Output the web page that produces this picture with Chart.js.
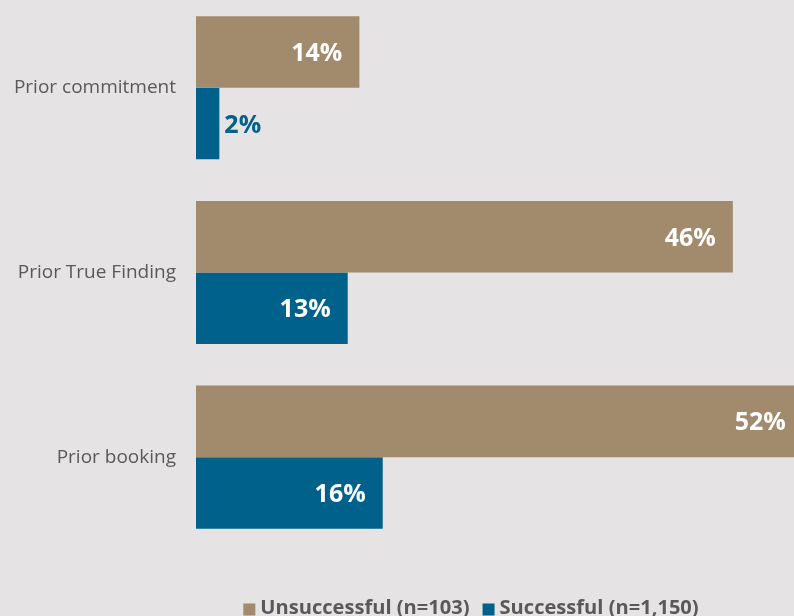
<!DOCTYPE html>
<html>
<head>
<meta charset="utf-8">
<script src="https://cdn.jsdelivr.net/npm/chart.js@4"></script>
<style>
    html, body { margin: 0; padding: 0; background: #e5e3e4; overflow: hidden; }
    #wrap { position: absolute; left: 0; top: -28px; width: 794px; height: 644px; }
</style>
</head>
<body>
<div id="wrap"><canvas id="myChart"></canvas></div>
<script>
const categories = ['Prior commitment', 'Prior True Finding', 'Prior booking'];
const seriesNames = ['Unsuccessful (n=103)', 'Successful (n=1,150)'];
const unsuccessful = [14, 46, 52];
const successful = [2, 13, 16];

const tan = '#a28a6d';
const blue = '#00618a';

// value labels at the end of each bar
const barLabels = {
    id: 'barLabels',
    afterDatasetsDraw(chart) {
        const ctx = chart.ctx;
        ctx.save();
        ctx.font = 'bold 25px "Open Sans"';
        ctx.textBaseline = 'middle';
        chart.data.datasets.forEach((ds, i) => {
            const meta = chart.getDatasetMeta(i);
            meta.data.forEach((bar, j) => {
                const txt = ds.data[j] + '%';
                const w = ctx.measureText(txt).width;
                if (w + 30 < bar.x - bar.base) {
                    ctx.fillStyle = '#ffffff';
                    ctx.textAlign = 'right';
                    ctx.fillText(txt, bar.x - 17, bar.y + 2);
                } else {
                    ctx.fillStyle = ds.backgroundColor;
                    ctx.textAlign = 'left';
                    ctx.fillText(txt, bar.x + 5, bar.y + 2);
                }
            });
        });
        ctx.restore();
    }
};

// legend drawn by hand so the box/text gap stays tight like the original
const tightLegend = {
    id: 'tightLegend',
    afterDraw(chart) {
        const ctx = chart.ctx;
        ctx.save();
        ctx.font = 'bold 20.1px "Open Sans"';
        ctx.textBaseline = 'middle';
        ctx.textAlign = 'left';
        const items = chart.data.datasets.map(ds => ({ text: ds.label, color: ds.backgroundColor }));
        let total = 0;
        items.forEach((it, i) => {
            it.w = ctx.measureText(it.text).width;
            total += 17 + it.w + (i > 0 ? 13 : 0);
        });
        let x = 471 - total / 2;
        const y = chart.chartArea.bottom + 59;
        items.forEach((it, i) => {
            if (i > 0) x += 13;
            ctx.fillStyle = it.color;
            ctx.fillRect(x, y - 5, 12, 12);
            ctx.fillStyle = '#595959';
            ctx.fillText(it.text, x + 17, y);
            x += 17 + it.w;
        });
        ctx.restore();
    }
};

const ctx = document.getElementById('myChart').getContext('2d');
const myChart = new Chart(ctx, {
    type: 'bar',
    data: {
        labels: categories,
        datasets: [{
            label: seriesNames[0],
            data: unsuccessful,
            backgroundColor: tan
        }, {
            label: seriesNames[1],
            data: successful,
            backgroundColor: blue
        }]
    },
    options: {
        indexAxis: 'y',
        responsive: true,
        maintainAspectRatio: false,
        animation: false,
        categoryPercentage: 0.775,
        barPercentage: 1,
        layout: { padding: { top: 0, bottom: 4, left: 0, right: 0 } },
        scales: {
            x: {
                min: 0,
                max: 51.24,
                grid: { display: false },
                border: { display: false },
                ticks: { display: false },
                afterFit: function (scale) { scale.height = 62.5; }
            },
            y: {
                grid: { display: false },
                border: { display: false },
                afterFit: function (scale) { scale.width = 196; },
                ticks: {
                    color: '#595959',
                    padding: 12,
                    font: { family: 'Open Sans', size: 19 }
                }
            }
        },
        plugins: {
            tooltip: { enabled: false },
            legend: { display: false }
        }
    },
    plugins: [barLabels, tightLegend]
});
</script>
</body>
</html>
